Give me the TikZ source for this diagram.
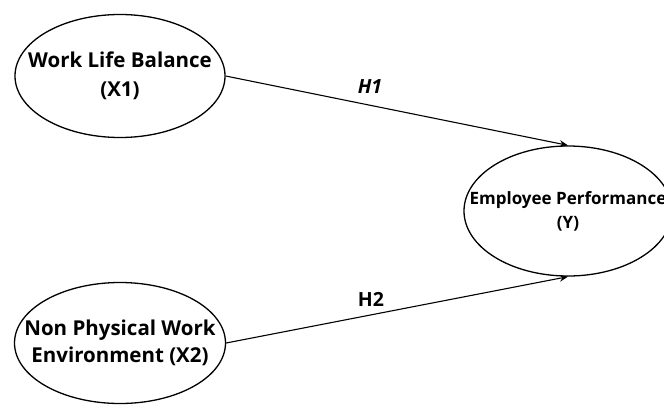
\documentclass[tikz,border=0pt]{standalone}
\usepackage{fontspec}
\setmainfont{Open Sans}
\usepackage{xcolor}
\usetikzlibrary{arrows.meta,positioning,shapes.geometric}
\tikzset{
  var/.style={draw=black,ellipse,line width=1.3pt,align=center,inner sep=-30pt,font=\bfseries\fontsize{20.5}{29}\selectfont},
  dep/.style={var,font=\bfseries\fontsize{17}{24}\selectfont},
  lab/.style={font=\bfseries\fontsize{19.5}{21}\selectfont,text=black},
  arr/.style={-{Stealth[length=3mm,width=2.4mm]},line width=1.1pt,draw=black},
}

\begin{document}
\begin{tikzpicture}[x=1pt,y=-1pt]
    \useasboundingbox (0,0) rectangle (664,405);
    \node[var,minimum width=210,minimum height=123] (wlb) at (120,76) {Work Life Balance\\(X1)};
    \node[var,minimum width=211,minimum height=121,font=\bfseries\fontsize{20.5}{27}\selectfont] (env) at (120,343) {Non Physical Work\\Environment (X2)};
    \node[dep,minimum width=208,minimum height=130] (perf) at (568,211) {Employee Performance\\(Y)};
    \draw[arr] (wlb.east) -- (perf.north);
    \draw[arr] (env.east) -- (perf.south);
    \node[lab] (h1) at (370,87) {\itshape H1};
    \node[lab] (h2) at (371,299) {H2};
  \end{tikzpicture}
\end{document}
